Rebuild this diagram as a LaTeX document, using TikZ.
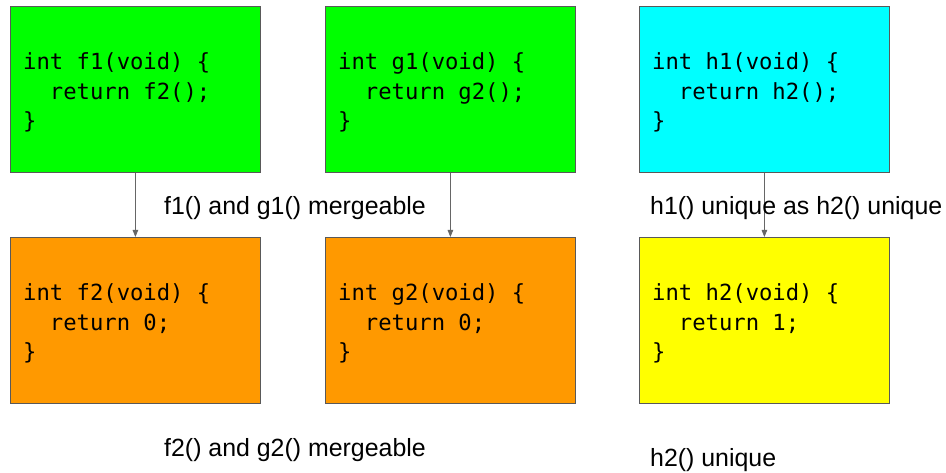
\documentclass[tikz,border=0pt]{standalone}
\usepackage{fontspec}
\setmainfont{Liberation Sans}
\newfontfamily\codefont{DejaVu Sans Mono}
\usetikzlibrary{arrows.meta,calc}
\definecolor{boxline}{HTML}{595959}
\definecolor{arrowgray}{HTML}{666666}
\definecolor{fgreen}{HTML}{00FF00}
\definecolor{fcyan}{HTML}{00FFFF}
\definecolor{forange}{HTML}{FF9900}
\definecolor{fyellow}{HTML}{FFFF00}
\tikzset{
  fnbox/.style={draw=boxline, line width=0.8pt, rectangle, anchor=north west,
    minimum width=250pt, minimum height=166pt, inner sep=0pt},
  code/.style={anchor=west, align=left, inner sep=0pt,
    font=\codefont\fontsize{22.2}{29.8}\selectfont},
  caption/.style={anchor=base west, inner sep=0pt, font=\fontsize{24.9}{28}\selectfont},
  call/.style={draw=arrowgray, line width=0.8pt, -{Triangle[length=7pt,width=5.5pt]}}
}
\begin{document}
\begin{tikzpicture}[x=1pt,y=-1pt]
  \useasboundingbox[fill=white] (0,0) rectangle (946,473);

  % callers (top row)
  \node[fnbox, fill=fgreen]  (f1) at (10,6)  {};
  \node[fnbox, fill=fgreen]  (g1) at (325,6) {};
  \node[fnbox, fill=fcyan]   (h1) at (639,6) {};
  % callees (bottom row)
  \node[fnbox, fill=forange] (f2) at (10,237)  {};
  \node[fnbox, fill=forange] (g2) at (325,237) {};
  \node[fnbox, fill=fyellow] (h2) at (639,237) {};

  % function bodies
  \node[code] (f1c) at ($(f1.west)+(13,3)$) {int f1(void) \{\\\ \ return f2();\\\}};
  \node[code] (g1c) at ($(g1.west)+(13,3)$) {int g1(void) \{\\\ \ return g2();\\\}};
  \node[code] (h1c) at ($(h1.west)+(13,3)$) {int h1(void) \{\\\ \ return h2();\\\}};
  \node[code] (f2c) at ($(f2.west)+(13,3)$) {int f2(void) \{\\\ \ return 0;\\\}};
  \node[code] (g2c) at ($(g2.west)+(13,3)$) {int g2(void) \{\\\ \ return 0;\\\}};
  \node[code] (h2c) at ($(h2.west)+(13,3)$) {int h2(void) \{\\\ \ return 1;\\\}};

  % call edges
  \draw[call] (f1.south) -- (f2.north);
  \draw[call] (g1.south) -- (g2.north);
  \draw[call] (h1.south) -- (h2.north);

  % captions
  \node[caption] (capfg1) at (164,215) {f1() and g1() mergeable};
  \node[caption] (caph1)  at (650,215) {h1() unique as h2() unique};
  \node[caption] (capfg2) at (164,456) {f2() and g2() mergeable};
  \node[caption] (caph2)  at (650,466) {h2() unique};
\end{tikzpicture}
\end{document}
